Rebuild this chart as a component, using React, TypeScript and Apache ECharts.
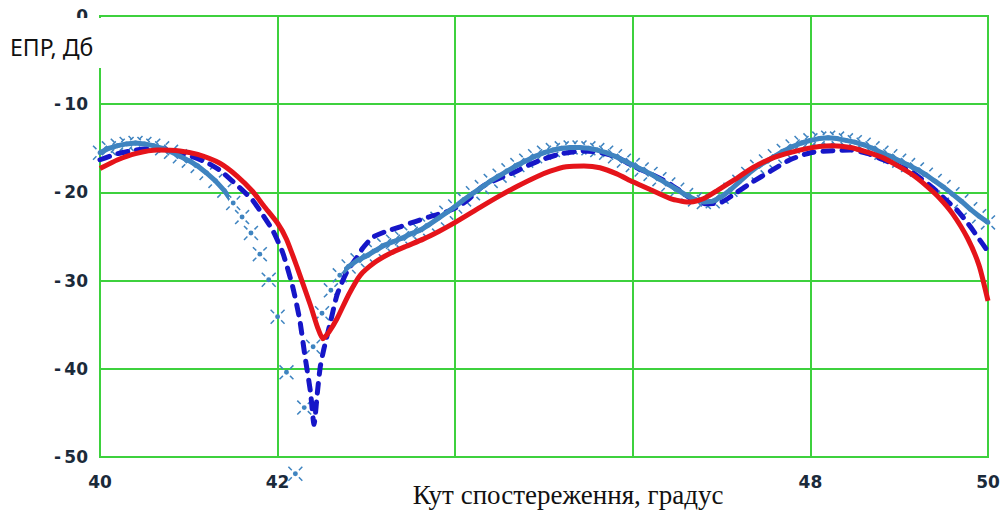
import React, { useEffect, useRef } from "react";
import * as echarts from "echarts";

// Red solid curve (angle, dB)
const redAngles = [
  40.0, 40.2, 40.4, 40.65, 40.9, 41.1, 41.35, 41.55, 41.72, 41.85, 42.0, 42.1,
  42.22, 42.37, 42.45, 42.51, 42.58, 42.67, 42.8, 42.93, 43.1, 43.27, 43.45,
  43.64, 43.82, 44.0, 44.28, 44.5, 44.7, 44.9, 45.07, 45.25, 45.45, 45.63,
  45.82, 46.0, 46.2, 46.45, 46.65, 46.8, 46.95, 47.17, 47.35, 47.6, 47.88,
  48.1, 48.25, 48.45, 48.63, 48.8, 48.97, 49.15, 49.3, 49.45, 49.6, 49.77,
  49.9, 50.0,
];
const redValues = [
  -17.3, -16.3, -15.6, -15.2, -15.3, -15.7, -16.7, -18.2, -19.9, -21.6, -23.5,
  -25.3, -28.5, -32.8, -35.3, -36.6, -35.8, -34.3, -31.6, -29.4, -27.9, -26.9,
  -26.1, -25.3, -24.4, -23.4, -21.7, -20.4, -19.3, -18.3, -17.6, -17.1, -17.0,
  -17.2, -17.9, -18.8, -19.7, -20.8, -21.1, -20.7, -19.8, -18.4, -17.2, -16.0,
  -15.2, -14.8, -14.7, -14.9, -15.4, -16.0, -16.9, -18.0, -19.2, -20.6, -22.4,
  -25.2, -28.3, -32.3,
];

// Blue dashed curve
const blueAngles = [
  40.0, 40.2, 40.4, 40.6, 40.8, 41.0, 41.2, 41.35, 41.5, 41.62, 41.72, 41.83,
  41.95, 42.06, 42.17, 42.25, 42.31, 42.37, 42.41, 42.45, 42.48, 42.52, 42.6,
  42.67, 42.78, 42.89, 42.96, 43.07, 43.2, 43.38, 43.55, 43.7, 43.9, 44.05,
  44.15, 44.31, 44.5, 44.69, 44.85, 45.0, 45.2, 45.44, 45.6, 45.82, 46.0, 46.2,
  46.38, 46.5, 46.64, 46.83, 47.0, 47.17, 47.35, 47.55, 47.77, 48.0, 48.2,
  48.45, 48.65, 48.82, 49.0, 49.16, 49.38, 49.52, 49.65, 49.78, 49.88, 50.0,
];
const blueValues = [
  -16.3, -15.6, -15.2, -15.0, -15.2, -15.8, -16.6, -17.5, -18.8, -19.9, -20.9,
  -22.5, -24.4, -26.9, -30.7, -34.5, -38.7, -42.6, -46.3, -42.5, -39.8, -37.8,
  -34.5, -31.6, -29.0, -27.4, -26.3, -25.1, -24.5, -23.9, -23.3, -22.8, -22.2,
  -21.5, -20.8, -19.3, -18.4, -17.6, -16.8, -16.2, -15.6, -15.3, -15.4, -16.0,
  -17.0, -17.9, -18.8, -19.6, -20.6, -21.3, -21.1, -20.0, -18.8, -17.6, -16.3,
  -15.5, -15.3, -15.2, -15.6, -16.3, -17.0, -17.8, -19.5, -20.8, -22.0, -23.6,
  -25.0, -26.7,
];

// Steel-blue sampled curve (points every 0.1 degree)
const steelAngles = [
  40.0, 40.1, 40.2, 40.3, 40.4, 40.5, 40.6, 40.7, 40.8, 40.9,
  41.0, 41.1, 41.2, 41.3, 41.4, 41.5, 41.6, 41.7, 41.8, 41.9,
  42.0, 42.1, 42.2, 42.3, 42.4, 42.5, 42.6, 42.7, 42.8, 42.9,
  43.0, 43.1, 43.2, 43.3, 43.4, 43.5, 43.6, 43.7, 43.8, 43.9,
  44.0, 44.1, 44.2, 44.3, 44.4, 44.5, 44.6, 44.7, 44.8, 44.9,
  45.0, 45.1, 45.2, 45.3, 45.4, 45.5, 45.6, 45.7, 45.8, 45.9,
  46.0, 46.1, 46.2, 46.3, 46.4, 46.5, 46.6, 46.7, 46.8, 46.9,
  47.0, 47.1, 47.2, 47.3, 47.4, 47.5, 47.6, 47.7, 47.8, 47.9,
  48.0, 48.1, 48.2, 48.3, 48.4, 48.5, 48.6, 48.7, 48.8, 48.9,
  49.0, 49.1, 49.2, 49.3, 49.4, 49.5, 49.6, 49.7, 49.8, 49.9,
  50.0,
];
const steelValues = [
  -15.5, -15.0, -14.7, -14.5, -14.4, -14.5, -14.7, -15.0, -15.4, -15.9,
  -16.4, -17.0, -17.8, -18.7, -19.8, -21.2, -22.8, -24.6, -27.0, -29.9,
  -34.1, -40.4, -51.9, -44.4, -37.5, -33.7, -31.1, -29.4, -28.4, -27.7,
  -27.2, -26.6, -26.0, -25.6, -25.2, -24.7, -24.3, -23.7, -23.0, -22.3,
  -21.6, -20.8, -20.1, -19.4, -18.7, -18.1, -17.5, -16.9, -16.4, -15.9,
  -15.5, -15.2, -15.0, -14.9, -14.9, -15.0, -15.2, -15.5, -15.9, -16.4,
  -16.9, -17.4, -17.9, -18.5, -19.1, -19.7, -20.3, -20.8, -21.1, -21.0,
  -20.5, -19.7, -18.8, -17.9, -17.1, -16.5, -15.9, -15.3, -14.8, -14.4,
  -14.1, -13.9, -13.8, -13.9, -14.1, -14.3, -14.6, -15.0, -15.5, -15.9,
  -16.4, -16.9, -17.4, -18.0, -18.7, -19.4, -20.2, -21.0, -21.9, -22.7,
  -23.4,
];

const xShownTicks = [40, 42, 48, 50];
const yAxisTitle = "ЕПР, Дб";
const xAxisTitle = "Кут спостереження, градус";

const GREEN = "#3dd13d";
const RED = "#e5141a";
const BLUE = "#1616c8";
const STEEL = "#3f84c0";
const LABEL = "#1b2a3a";

const MARKER =
  "path://M34,50 A16,16 0 1 0 66,50 A16,16 0 1 0 34,50 Z " +
  "M8.5,1.5 L30.5,23.5 L23.5,30.5 L1.5,8.5 Z " +
  "M91.5,1.5 L98.5,8.5 L76.5,30.5 L69.5,23.5 Z " +
  "M1.5,91.5 L8.5,98.5 L30.5,76.5 L23.5,69.5 Z " +
  "M98.5,91.5 L91.5,98.5 L69.5,76.5 L76.5,69.5 Z";

const pairs = (xs: number[], ys: number[]) => xs.map((x, i) => [x, ys[i]]);

export default function App() {
  const ref = useRef<HTMLDivElement>(null);

  useEffect(() => {
    const chart = echarts.init(ref.current!, null, { renderer: "svg" });
    const labelStyle = {
      color: LABEL,
      fontFamily: "DejaVu Sans",
      fontWeight: "bold" as const,
      fontSize: 17,
    };
    chart.setOption({
      animation: false,
      backgroundColor: "#ffffff",
      grid: {
        left: 100,
        right: 20,
        top: 16,
        bottom: 53,
        show: true,
        borderColor: GREEN,
        borderWidth: 2,
        backgroundColor: "transparent",
      },
      xAxis: {
        type: "value",
        min: 40,
        max: 50,
        interval: 2,
        axisLine: { show: false },
        axisTick: { show: false },
        splitLine: { show: true, lineStyle: { color: GREEN, width: 2 } },
        axisLabel: {
          ...labelStyle,
          margin: 16,
          formatter: (v: number) => (xShownTicks.includes(v) ? String(v) : ""),
        },
      },
      yAxis: {
        type: "value",
        min: -50,
        max: 0,
        interval: 10,
        axisLine: { show: false },
        axisTick: { show: false },
        splitLine: { show: true, lineStyle: { color: GREEN, width: 2 } },
        axisLabel: {
          ...labelStyle,
          margin: 12,
          padding: [6, 0, 0, 0],
          formatter: (v: number) => (v < 0 ? "-\u2009" + Math.abs(v) : String(v)),
        },
      },
      visualMap: [
        {
          type: "piecewise",
          show: false,
          dimension: 0,
          seriesIndex: 1,
          pieces: [
            { lte: 41.45, color: STEEL },
            { gt: 41.45, lt: 42.75, color: "rgba(255,255,255,0)" },
            { gte: 42.75, color: STEEL },
          ],
        },
      ],
      series: [
        {
          type: "line",
          data: pairs(blueAngles, blueValues),
          symbol: "none",
          smooth: 0.2,
          lineStyle: { color: BLUE, width: 5, type: [10, 9], cap: "round" },
        },
        {
          type: "line",
          data: pairs(steelAngles, steelValues),
          symbol: "none",
          lineStyle: { width: 5 },
        },
        {
          type: "scatter",
          data: pairs(steelAngles, steelValues),
          symbol: MARKER,
          symbolSize: 15,
          clip: false,
          itemStyle: { color: STEEL, opacity: 1 },
        },
        {
          type: "line",
          data: pairs(redAngles, redValues),
          symbol: "none",
          smooth: 0.2,
          lineStyle: { color: RED, width: 5 },
        },
      ],
      graphic: [
        {
          type: "rect",
          z: 100,
          shape: { x: 0, y: 18, width: 106, height: 50 },
          style: { fill: "#ffffff" },
        },
        {
          type: "text",
          z: 101,
          x: 10,
          y: 47,
          style: {
            text: yAxisTitle,
            fill: "#111111",
            fontSize: 23,
            fontFamily: "Noto Sans",
            align: "left",
            verticalAlign: "middle",
          },
        },
        {
          type: "text",
          z: 101,
          x: 568,
          y: 495,
          style: {
            text: xAxisTitle,
            fill: "#111111",
            fontSize: 27,
            fontFamily: "Liberation Serif",
            align: "center",
            verticalAlign: "middle",
          },
        },
      ],
    });
    return () => chart.dispose();
  }, []);

  return (
    <div
      ref={ref}
      style={{
        position: "fixed",
        left: 0,
        top: 0,
        width: 1008,
        height: 510,
        background: "#fff",
      }}
    />
  );
}
